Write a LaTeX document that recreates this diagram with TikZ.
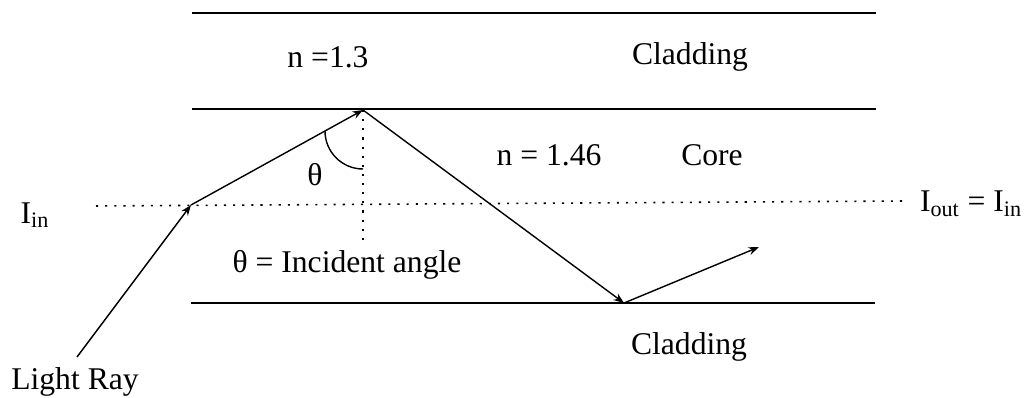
\documentclass[tikz,border=0pt]{standalone}
\usepackage{fontspec}
\setmainfont{Liberation Serif}
\usepackage{tikz}
\usetikzlibrary{arrows.meta,calc}
\tikzset{
  wall/.style={draw,line width=1pt},
  ray/.style={draw,line width=0.8pt,-{Stealth[length=6pt,width=4.5pt]}},
  axisline/.style={draw,line width=0.9pt,dash pattern=on 1.2pt off 4pt},
  lbl/.style={inner sep=0pt,font=\fontsize{18}{20}\selectfont},
}

\begin{document}
\begin{tikzpicture}[x=0.02cm,y=-0.02cm]
\useasboundingbox (0,0) rectangle (1026,398);

% cladding / core boundaries
\coordinate (topL) at (192,13);  \coordinate (topR) at (876,13);
\coordinate (midL) at (192,109); \coordinate (midR) at (876,109);
\coordinate (botL) at (191,303); \coordinate (botR) at (875,303);
\draw[wall] (topL) -- (topR);
\draw[wall] (midL) -- (midR);
\draw[wall] (botL) -- (botR);

% axis and normal
\coordinate (axL) at (96,206);
\coordinate (axR) at (903,201);
\coordinate (p2) at (363,110);
\coordinate (nEnd) at (363,240);
\draw[axisline] (axL) -- (axR);
\draw[axisline] (p2) -- (nEnd);

% the ray
\coordinate (src) at (77,357);
\coordinate (p1) at (191,205);
\coordinate (p3) at (624,303);
\coordinate (p4) at (759,247);
\draw[ray] (src) -- (p1);
\draw[ray] (p1) -- (p2);
\draw[ray] (p2) -- (p3);
\draw[ray] (p3) -- (p4);

% incident angle
\coordinate (arcS) at (325,131);
\draw[line width=0.8pt] (arcS) arc[start angle=180,end angle=270,radius=0.76cm];

\node[lbl] (nclad) at (328,57) {n =1.3};
\node[lbl] (cladtop) at (690,57) {Cladding};
\node[lbl] (ncore) at (549,155) {n = 1.46};
\node[lbl] (core) at (712,155) {Core};
\node[lbl] (theta) at (315,175) {θ};
\node[lbl] (thetadef) at (347,265) {θ = Incident angle};
\node[lbl] (iin) at (35,215) {I\textsubscript{in}};
\node[lbl] (iout) at (971,204) {I\textsubscript{out} = I\textsubscript{in}};
\node[lbl] (cladbot) at (689,347) {Cladding};
\node[lbl] (light) at (75,382) {Light Ray};

\end{tikzpicture}
\end{document}
